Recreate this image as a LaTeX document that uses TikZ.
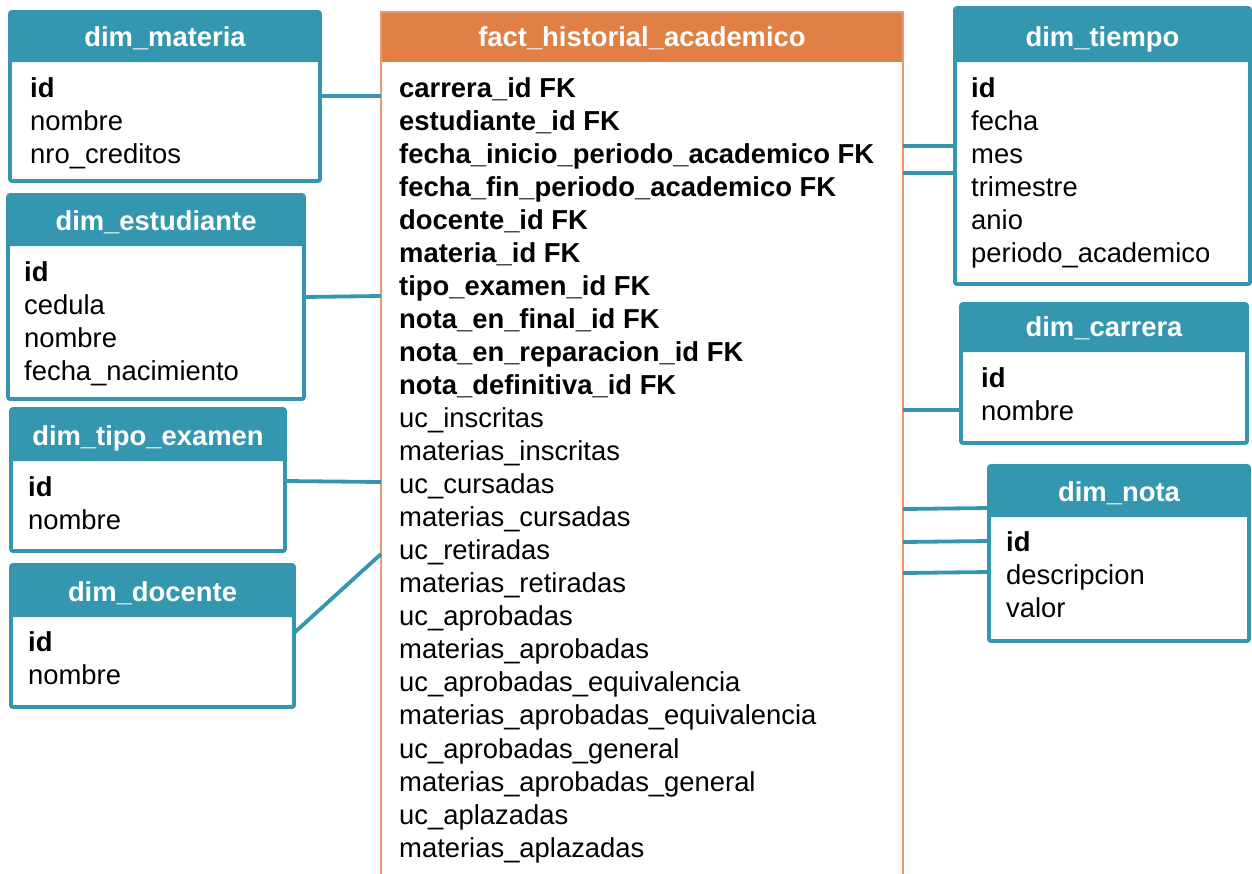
\documentclass[tikz,border=0pt]{standalone}
\usepackage{fontspec}
\setmainfont{Liberation Sans}
\definecolor{dimblue}{HTML}{3597AF}
\definecolor{factorange}{HTML}{E08045}
\definecolor{factline}{HTML}{E99A70}

% one dimension table: name, x1, y1, x2, header bottom, y2, title
\newcommand\dimtab[7]{%
  \node[dimframe, minimum width={#4-#2}, minimum height={#6-#3}] (#1) at (#2,#3) {};
  \fill[dimblue, rounded corners=2pt] (#2,#3) rectangle (#4,#5);
  \node[tabtitle] (#1-title) at ({(#2+#4)/2},{#5-16}) {#7};
}
% list of fields: prefix, style, x, first baseline, step, list
\newcommand\fieldlist[6]{%
  \foreach \f [count=\k from 0] in {#6} {
    \node[#2] (#1\k) at (#3,{#4+#5*\k}) {\f};
  }
}

\begin{document}
\begin{tikzpicture}[x=1pt,y=-1pt,
  txt/.style={font=\fontsize{27.4}{33}\selectfont},
  dimframe/.style={draw=dimblue, line width=3.8pt, fill=white, rounded corners=2pt,
    anchor=north west, inner sep=0pt, outer sep=0pt},
  factframe/.style={draw=factline, line width=1.6pt, fill=white,
    anchor=north west, inner sep=0pt, outer sep=0pt},
  tabtitle/.style={txt, font=\bfseries\fontsize{27.4}{33}\selectfont, text=white,
    anchor=base, inner sep=0pt},
  field/.style={txt, anchor=base west, inner sep=0pt},
  keyfield/.style={field, font=\bfseries\fontsize{27.4}{33}\selectfont},
  link/.style={draw=dimblue, line width=3.8pt}]

\useasboundingbox (0,0) rectangle (1252,873);
\clip (0,0) rectangle (1252,873);
\fill[white] (0,0) rectangle (1252,873);

% fact table
\node[factframe, minimum width=522, minimum height=900] (fact) at (381,12) {};
\fill[factorange] (381,12) rectangle (903,62);
\draw[factline, line width=1.6pt] (381,62) -- (381,12) -- (903,12) -- (903,62);
\node[tabtitle] (fact-title) at (642,46) {fact\_historial\_academico};
\fieldlist{fk}{keyfield}{399}{97}{33.05}{carrera\_id FK, estudiante\_id FK,
  fecha\_inicio\_periodo\_academico FK, fecha\_fin\_periodo\_academico FK,
  docente\_id FK, materia\_id FK, tipo\_examen\_id FK, nota\_en\_final\_id FK,
  nota\_en\_reparacion\_id FK, nota\_definitiva\_id FK}
\fieldlist{m}{field}{399}{427.5}{33.05}{uc\_inscritas, materias\_inscritas,
  uc\_cursadas, materias\_cursadas, uc\_retiradas, materias\_retiradas,
  uc\_aprobadas, materias\_aprobadas, uc\_aprobadas\_equivalencia,
  materias\_aprobadas\_equivalencia, uc\_aprobadas\_general,
  materias\_aprobadas\_general, uc\_aplazadas, materias\_aplazadas}

% dimension tables
\dimtab{materia}{10}{12}{320}{62}{181}{dim\_materia}
\node[keyfield] (materia-id) at (30,97) {id};
\fieldlist{materia-f}{field}{30}{130.1}{33.1}{nombre, nro\_creditos}

\dimtab{estudiante}{8}{195}{304}{246}{399}{dim\_estudiante}
\node[keyfield] (estudiante-id) at (24,281) {id};
\fieldlist{estudiante-f}{field}{24}{314.1}{33.1}{cedula, nombre, fecha\_nacimiento}

\dimtab{tipo}{11}{409}{285}{461}{551}{dim\_tipo\_examen}
\node[keyfield] (tipo-id) at (28,496) {id};
\fieldlist{tipo-f}{field}{28}{529.1}{33.1}{nombre}

\dimtab{docente}{11}{565}{294}{617}{707}{dim\_docente}
\node[keyfield] (docente-id) at (28,651) {id};
\fieldlist{docente-f}{field}{28}{684.1}{33.1}{nombre}

\dimtab{tiempo}{955}{8}{1250}{62}{284}{dim\_tiempo}
\node[keyfield] (tiempo-id) at (971,97) {id};
\fieldlist{tiempo-f}{field}{971}{130.1}{33.1}{fecha, mes, trimestre, anio, periodo\_academico}

\dimtab{carrera}{961}{304}{1247}{352}{443}{dim\_carrera}
\node[keyfield] (carrera-id) at (981,387) {id};
\fieldlist{carrera-f}{field}{981}{420.1}{33.1}{nombre}

\dimtab{nota}{989}{466}{1249}{517}{641}{dim\_nota}
\node[keyfield] (nota-id) at (1006,551) {id};
\fieldlist{nota-f}{field}{1006}{584.1}{33.1}{descripcion, valor}

% relationships
\draw[link] (materia.east |- 0,96) -- (fact.west |- 0,96);
\draw[link] (estudiante.east |- 0,297) -- (fact.west |- 0,296);
\draw[link] (tipo.east |- 0,481) -- (fact.west |- 0,482);
\draw[link] (docente.east |- 0,633) -- (fact.west |- 0,554);
\draw[link] (fact.east |- 0,146) -- (tiempo.west |- 0,146);
\draw[link] (fact.east |- 0,173) -- (tiempo.west |- 0,173);
\draw[link] (fact.east |- 0,410) -- (carrera.west |- 0,410);
\draw[link] (fact.east |- 0,509) -- (nota.west |- 0,508);
\draw[link] (fact.east |- 0,542) -- (nota.west |- 0,541);
\draw[link] (fact.east |- 0,573) -- (nota.west |- 0,572);
\end{tikzpicture}
\end{document}
